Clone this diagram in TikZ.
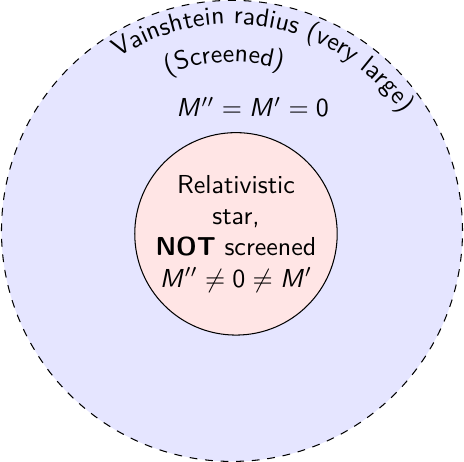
\documentclass[tikz,border=0pt]{standalone}
\renewcommand{\familydefault}{\sfdefault}
% sans serif maths, as in the figure
\DeclareSymbolFont{letters}{OT1}{cmss}{m}{sl}
\DeclareSymbolFont{operators}{OT1}{cmss}{m}{n}
\usetikzlibrary{decorations.text, positioning}

\begin{document}
\begin{tikzpicture}[
    font=\sffamily,
    region/.style={circle, draw=black, dashed, fill=blue!10, minimum size=6.24cm, inner sep=0pt},
    star/.style={circle, draw=black, fill=red!10, minimum size=2.74cm, inner sep=0pt, align=center},
    arclabel/.style={decorate, decoration={text along path, text align=center, text={#1}}}
]
\useasboundingbox (-3.14,-3.125) rectangle (3.14,3.125);

\node[region] (vain) at (0,0) {};
\node[star] (star) at (0.054,-0.04) {Relativistic\\star,\\\textbf{NOT} screened\\$M''\neq 0\neq M'$};
\node (out) at (0.28,1.68) {$M'' = M' = 0$};

% labels bent along the Vainshtein sphere
\path[arclabel={Vainshtein radius (very large)}] (vain.center) ++(127:2.8) arc[start angle=127, end angle=31, radius=2.8cm];
\path[arclabel={(Screened)}] (vain.center) ++(113:2.285) arc[start angle=113, end angle=72, radius=2.285cm];
\end{tikzpicture}
\end{document}
